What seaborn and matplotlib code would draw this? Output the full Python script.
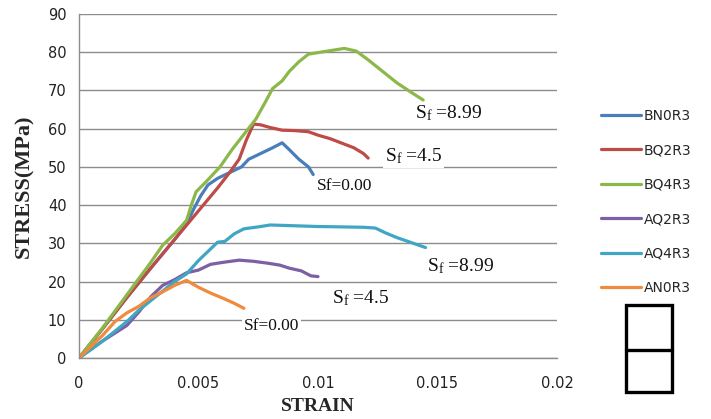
import numpy as np
import pandas as pd
import matplotlib
matplotlib.use("Agg")
import matplotlib.pyplot as plt
import seaborn as sns
from matplotlib.patches import Rectangle
from matplotlib.lines import Line2D

# ---------------- data ----------------
series_names = ["BN0R3", "BQ2R3", "BQ4R3", "AQ2R3", "AQ4R3", "AN0R3"]

bn0r3_strain = [0, 0.001, 0.002, 0.003, 0.004, 0.0045, 0.0048, 0.0051, 0.0054, 0.0058,
                0.0063, 0.0068, 0.0071, 0.0076, 0.0081, 0.0085, 0.0088, 0.0092, 0.0096, 0.0098]
bn0r3_stress = [0, 7.8, 15.8, 23.5, 31, 35, 39, 42.5, 45.3, 47, 48.5, 50, 52, 53.5, 55, 56.3,
                54.5, 52, 50, 48]

bq2r3_strain = [0, 0.001, 0.002, 0.003, 0.004, 0.005, 0.0058, 0.0063, 0.0067, 0.007, 0.0073,
                0.0076, 0.008, 0.0085, 0.009, 0.0096, 0.01, 0.0105, 0.011, 0.0115, 0.0119, 0.0121]
bq2r3_stress = [0, 7.8, 15.8, 23.5, 31, 38.5, 44.5, 48.5, 52, 57, 61.2, 61, 60.3, 59.6, 59.5,
                59.2, 58.3, 57.4, 56.2, 55, 53.5, 52.3]

bq4r3_strain = [0, 0.001, 0.002, 0.003, 0.0035, 0.004, 0.0045, 0.0047, 0.0049, 0.0053, 0.0059,
                0.0064, 0.0069, 0.0074, 0.0078, 0.0081, 0.0085, 0.0088, 0.0092, 0.0096, 0.0101,
                0.0106, 0.0111, 0.0116, 0.0121, 0.0127, 0.0133, 0.0139, 0.0144]
bq4r3_stress = [0, 8, 16.5, 25, 29.5, 32.5, 36, 40, 43.5, 46, 50, 54.5, 58.5, 62.5, 67, 70.5,
                72.5, 75, 77.5, 79.5, 80, 80.5, 81, 80.3, 78, 75, 72, 69.5, 67.5]

aq2r3_strain = [0, 0.001, 0.002, 0.0025, 0.003, 0.0035, 0.004, 0.0045, 0.005, 0.0055, 0.006,
                0.0067, 0.0073, 0.0079, 0.0084, 0.0088, 0.0093, 0.0097, 0.01]
aq2r3_stress = [0, 4.5, 8.5, 12, 16, 19, 20.5, 22.3, 23, 24.5, 25, 25.6, 25.3, 24.8, 24.3,
                23.5, 22.8, 21.5, 21.3]

aq4r3_strain = [0, 0.001, 0.002, 0.0025, 0.003, 0.0035, 0.004, 0.0045, 0.005, 0.0055, 0.0058,
                0.0061, 0.0065, 0.0069, 0.0075, 0.008, 0.009, 0.01, 0.011, 0.0119, 0.0124,
                0.0128, 0.0133, 0.0139, 0.0145]
aq4r3_stress = [0, 4.5, 9.5, 12.5, 15, 17.5, 20, 22, 25.5, 28.5, 30.3, 30.5, 32.5, 33.8, 34.3,
                34.8, 34.6, 34.4, 34.3, 34.2, 34, 32.8, 31.5, 30.2, 28.9]

an0r3_strain = [0, 0.0005, 0.001, 0.0015, 0.002, 0.0025, 0.003, 0.0035, 0.004, 0.0045, 0.005,
                0.0055, 0.006, 0.0065, 0.0069]
an0r3_stress = [0, 3, 6, 9.5, 11.8, 13.5, 15.8, 17.3, 19, 20.3, 18.5, 17, 15.7, 14.3, 13]

x_ticks = [0, 0.005, 0.01, 0.015, 0.02]
x_tick_labels = ["0", "0.005", "0.01", "0.015", "0.02"]
y_ticks = [0, 10, 20, 30, 40, 50, 60, 70, 80, 90]

annotations = [
    (r"S$_{\mathrm{f}}$ =8.99", 0.01405, 64.0, 14, False),
    (r"S$_{\mathrm{f}}$ =4.5", 0.0128, 52.8, 14, True),
    ("Sf=0.00", 0.00995, 45.0, 12.5, False),
    (r"S$_{\mathrm{f}}$ =8.99", 0.01455, 24.0, 14, False),
    (r"S$_{\mathrm{f}}$ =4.5", 0.0106, 15.6, 14, False),
    ("Sf=0.00", 0.0069, 8.3, 12.5, True),
]

colors = ["#4A7EBB", "#BE4B48", "#8CB84A", "#7D5FA3", "#3FA6C4", "#F08A3C"]

# ---------------- build long table ----------------
all_strain = [bn0r3_strain, bq2r3_strain, bq4r3_strain, aq2r3_strain, aq4r3_strain, an0r3_strain]
all_stress = [bn0r3_stress, bq2r3_stress, bq4r3_stress, aq2r3_stress, aq4r3_stress, an0r3_stress]
frames = []
for name, xs, ys in zip(series_names, all_strain, all_stress):
    frames.append(pd.DataFrame({"strain": xs, "stress": ys, "series": name}))
df = pd.concat(frames, ignore_index=True)

sns.set_style("white")
plt.rcParams["font.family"] = ["DejaVu Sans"]
plt.rcParams["mathtext.fontset"] = "custom"
plt.rcParams["mathtext.rm"] = "Liberation Serif"
plt.rcParams["mathtext.it"] = "Liberation Serif:italic"

fig = plt.figure(figsize=(7.11, 4.19), dpi=100)
ax = fig.add_axes([79 / 711, 1 - 358 / 419, (557 - 79) / 711, (358 - 14) / 419])

sns.lineplot(data=df, x="strain", y="stress", hue="series", hue_order=series_names,
             palette=colors, sort=False, estimator=None, linewidth=2.3, ax=ax, legend=False)

ax.set_xlim(0, 0.02)
ax.set_ylim(0, 90)
ax.set_xticks(x_ticks)
ax.set_xticklabels(x_tick_labels)
ax.set_yticks(y_ticks)
ax.grid(axis="y", color="#8c8c8c", linewidth=1.0)
ax.grid(axis="x", visible=False)
ax.set_axisbelow(True)
for s in ["top", "right"]:
    ax.spines[s].set_visible(False)
for s in ["left", "bottom"]:
    ax.spines[s].set_color("#8c8c8c")
    ax.spines[s].set_linewidth(1.0)
ax.tick_params(axis="both", which="major", direction="out", length=5, width=1,
               color="#8c8c8c", labelsize=10.5, labelcolor="#222222")
ax.tick_params(axis="x", pad=8)
ax.tick_params(axis="y", pad=4)

ax.set_xlabel("STRAIN", family="Liberation Serif", fontweight="bold", fontsize=14, labelpad=5)
ax.set_ylabel("STRESS(MPa)", family="Liberation Serif", fontweight="bold", fontsize=16, labelpad=10)

for txt, xv, yv, fs, boxed in annotations:
    kw = {}
    if boxed:
        kw["bbox"] = dict(facecolor="white", edgecolor="none", pad=1.5)
    ax.text(xv, yv, txt, family="Liberation Serif", fontsize=fs, ha="left", va="center",
            color="#111111", **kw)

handles = [Line2D([0], [0], color=c, linewidth=2.3) for c in colors]
fig.legend(handles, series_names, loc="upper left", bbox_to_anchor=(601 / 711, 1 - 108.5 / 419),
           frameon=False, fontsize=10, handlelength=2.9, handletextpad=0.2,
           labelspacing=1.48, borderaxespad=0, borderpad=0)

# decorative box below legend
fig.patches.append(Rectangle((626 / 711, 1 - 392 / 419), 46 / 711, 87 / 419,
                             transform=fig.transFigure, fill=False, edgecolor="black",
                             linewidth=2.4))
fig.lines.append(Line2D([626 / 711, 672 / 711], [1 - 350 / 419, 1 - 350 / 419],
                        transform=fig.transFigure, color="black", linewidth=2.4))

fig.savefig("out.png", dpi=100)
